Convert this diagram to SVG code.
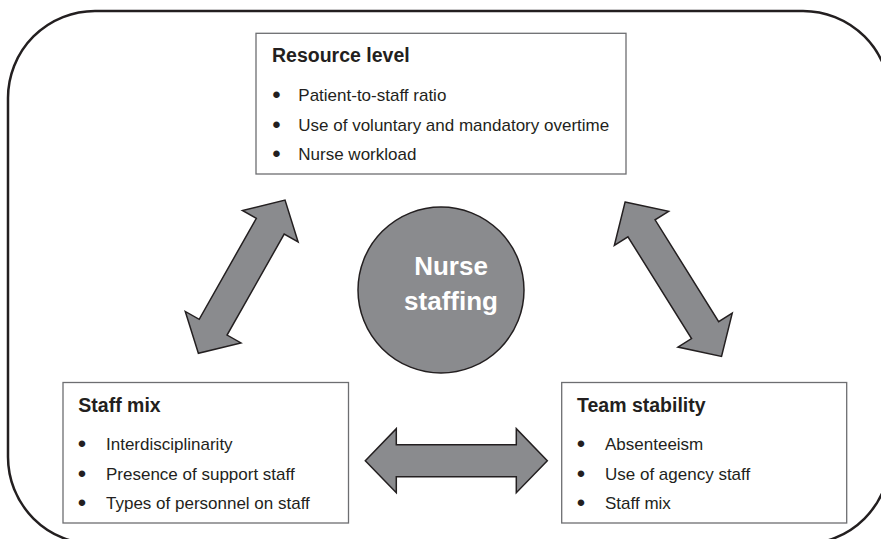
<svg xmlns="http://www.w3.org/2000/svg" xmlns:xlink="http://www.w3.org/1999/xlink" width="881" height="539" viewBox="0 0 881 539">
  <style>
    .frame { fill: none; stroke: #231f20; stroke-width: 2.5; }
    .box { fill: #ffffff; stroke: #6d6e71; stroke-width: 1.3; }
    .title { font-family: "Liberation Sans", Arial, sans-serif; font-weight: bold; font-size: 19.5px; fill: #231f20; }
    .item { font-family: "Liberation Sans", Arial, sans-serif; font-size: 17px; fill: #231f20; }
    .bullet { font-family: "Liberation Sans", Arial, sans-serif; font-size: 24px; fill: #231f20; text-anchor: middle; }
    .hub { fill: #8a8b8e; stroke: #231f20; stroke-width: 1.5; }
    .hub-text { font-family: "Liberation Sans", Arial, sans-serif; font-weight: bold; font-size: 26px; fill: #ffffff; text-anchor: middle; }
    .arrow { fill: #8a8b8e; stroke: #231f20; stroke-width: 1.5; stroke-linejoin: miter; }
  </style>
  <defs>
    <!-- double-headed block arrow, centred on the origin, length 182 -->
    <path id="dbl" d="M -91 0 L -60 -32 L -60 -16 L 60 -16 L 60 -32 L 91 0 L 60 32 L 60 16 L -60 16 L -60 32 Z"/>
  </defs>

  <!-- outer rounded frame, running past the right and bottom edges -->
  <rect class="frame" x="8" y="11" width="882" height="533" rx="87" ry="87"/>

  <g id="connectors">
    <use xlink:href="#dbl" class="arrow" transform="translate(241.7 276.7) rotate(-60.5) scale(0.967 1)"/>
    <use xlink:href="#dbl" class="arrow" transform="translate(673.3 279.2) rotate(58)"/>
    <use xlink:href="#dbl" class="arrow" transform="translate(456.3 460.7)"/>
  </g>

  <g id="nurse-staffing">
    <circle class="hub" cx="441" cy="290" r="83"/>
    <text class="hub-text" x="451" y="275">Nurse</text>
    <text class="hub-text" x="451" y="310">staffing</text>
  </g>

  <g id="resource-level">
    <rect class="box" x="256" y="33.3" width="370" height="140.7"/>
    <text class="title" x="272" y="62.3">Resource level</text>
    <text class="bullet" x="276.5" y="103">•</text>
    <text class="item" x="298.3" y="101">Patient-to-staff ratio</text>
    <text class="bullet" x="276.5" y="132.5">•</text>
    <text class="item" x="298.3" y="130.5">Use of voluntary and mandatory overtime</text>
    <text class="bullet" x="276.5" y="162">•</text>
    <text class="item" x="298.3" y="160">Nurse workload</text>
  </g>

  <g id="staff-mix">
    <rect class="box" x="63" y="382.5" width="285.5" height="140.5"/>
    <text class="title" x="78.3" y="411.5">Staff mix</text>
    <text class="bullet" x="82" y="452">•</text>
    <text class="item" x="106" y="450">Interdisciplinarity</text>
    <text class="bullet" x="82" y="481.5">•</text>
    <text class="item" x="106" y="479.5">Presence of support staff</text>
    <text class="bullet" x="82" y="511">•</text>
    <text class="item" x="106" y="509">Types of personnel on staff</text>
  </g>

  <g id="team-stability">
    <rect class="box" x="561.7" y="382.5" width="285" height="140.5"/>
    <text class="title" x="577" y="411.5">Team stability</text>
    <text class="bullet" x="581" y="452">•</text>
    <text class="item" x="605" y="450">Absenteeism</text>
    <text class="bullet" x="581" y="481.5">•</text>
    <text class="item" x="605" y="479.5">Use of agency staff</text>
    <text class="bullet" x="581" y="511">•</text>
    <text class="item" x="605" y="509">Staff mix</text>
  </g>
</svg>
